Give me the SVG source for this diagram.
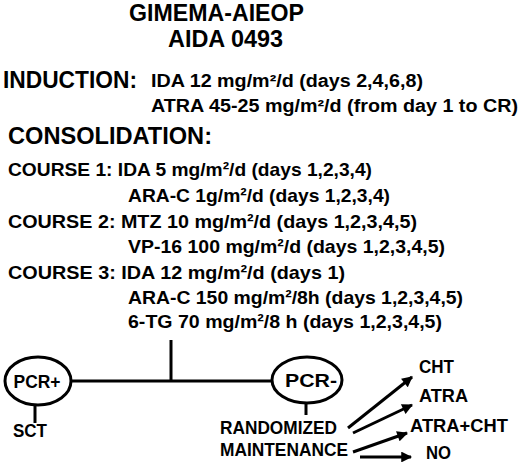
<svg xmlns="http://www.w3.org/2000/svg" width="520" height="464" viewBox="0 0 520 464">
<style>
text{font-family:"Liberation Sans",Arial,sans-serif;font-weight:bold;fill:#000}
.h{font-size:23px}
.h2{font-size:24px}
.d{font-size:17.5px}
.c{font-size:19px}
.n{font-size:18px}
.ln{stroke:#000;stroke-width:3;fill:none}
.el{stroke:#000;stroke-width:3;fill:#fff}
.ar{stroke:#000;stroke-width:3;fill:none;marker-end:url(#ah)}
</style>
<defs>
<marker id="ah" viewBox="0 0 10 10" refX="9" refY="5" markerWidth="4.2" markerHeight="3.6" orient="auto" markerUnits="strokeWidth">
<path d="M0,0 L10,5 L0,10 z" fill="#000"/>
</marker>
</defs>
<rect width="520" height="464" fill="#fff"/>
<g id="title">
<text class="h" x="129" y="21" textLength="175" lengthAdjust="spacingAndGlyphs">GIMEMA-AIEOP</text>
<text class="h" x="168" y="47" textLength="115" lengthAdjust="spacingAndGlyphs">AIDA 0493</text>
</g>
<g id="induction">
<text class="h" x="3" y="88" textLength="134" lengthAdjust="spacingAndGlyphs">INDUCTION:</text>
<text class="d" x="151" y="87" textLength="272" lengthAdjust="spacingAndGlyphs">IDA 12 mg/m²/d (days 2,4,6,8)</text>
<text class="d" x="151" y="112" textLength="367" lengthAdjust="spacingAndGlyphs">ATRA 45-25 mg/m²/d (from day 1 to CR)</text>
</g>
<g id="consolidation">
<text class="h2" x="8" y="144" textLength="204" lengthAdjust="spacingAndGlyphs">CONSOLIDATION:</text>
<text class="c" x="8" y="176" textLength="364" lengthAdjust="spacingAndGlyphs">COURSE 1: IDA 5 mg/m²/d (days 1,2,3,4)</text>
<text class="c" x="128" y="202" textLength="262" lengthAdjust="spacingAndGlyphs">ARA-C 1g/m²/d (days 1,2,3,4)</text>
<text class="c" x="8" y="228" textLength="409" lengthAdjust="spacingAndGlyphs">COURSE 2: MTZ 10 mg/m²/d (days 1,2,3,4,5)</text>
<text class="c" x="128" y="253" textLength="317" lengthAdjust="spacingAndGlyphs">VP-16 100 mg/m²/d (days 1,2,3,4,5)</text>
<text class="c" x="8" y="279" textLength="337" lengthAdjust="spacingAndGlyphs">COURSE 3: IDA 12 mg/m²/d (days 1)</text>
<text class="c" x="128" y="304" textLength="335" lengthAdjust="spacingAndGlyphs">ARA-C 150 mg/m²/8h (days 1,2,3,4,5)</text>
<text class="c" x="128" y="328" textLength="314" lengthAdjust="spacingAndGlyphs">6-TG 70 mg/m²/8 h (days 1,2,3,4,5)</text>
</g>
<g id="connectors">
<line class="ln" x1="171" y1="340" x2="171" y2="381"/>
<line class="ln" x1="71" y1="381" x2="272" y2="381"/>
<line class="ln" x1="35" y1="405" x2="35" y2="423"/>
<line class="ln" x1="306" y1="403" x2="306" y2="415"/>
<line class="ar" x1="348" y1="428" x2="412" y2="377"/>
<line class="ar" x1="353" y1="433" x2="412" y2="405"/>
<line class="ar" x1="353" y1="452" x2="407" y2="433"/>
<line class="ar" x1="360" y1="457" x2="411" y2="457"/>
</g>
<g id="pcr-pos">
<ellipse class="el" cx="38" cy="381" rx="33" ry="24"/>
<text class="n" x="37" y="388" text-anchor="middle" textLength="47" lengthAdjust="spacingAndGlyphs">PCR+</text>
</g>
<g id="sct">
<text class="n" x="13" y="437" textLength="34" lengthAdjust="spacingAndGlyphs">SCT</text>
</g>
<g id="pcr-neg">
<ellipse class="el" cx="307" cy="380" rx="35" ry="23"/>
<text class="n" x="311" y="387" text-anchor="middle" textLength="52" lengthAdjust="spacingAndGlyphs">PCR-</text>
</g>
<g id="randomized">
<text class="n" x="220" y="434" textLength="117" lengthAdjust="spacingAndGlyphs">RANDOMIZED</text>
<text class="n" x="220" y="456" textLength="128" lengthAdjust="spacingAndGlyphs">MAINTENANCE</text>
</g>
<g id="arms">
<text class="n" x="419" y="373" textLength="35" lengthAdjust="spacingAndGlyphs">CHT</text>
<text class="n" x="419" y="402" textLength="49" lengthAdjust="spacingAndGlyphs">ATRA</text>
<text class="n" x="410" y="432" textLength="98" lengthAdjust="spacingAndGlyphs">ATRA+CHT</text>
<text class="n" x="426" y="459" textLength="25" lengthAdjust="spacingAndGlyphs">NO</text>
</g>
</svg>
